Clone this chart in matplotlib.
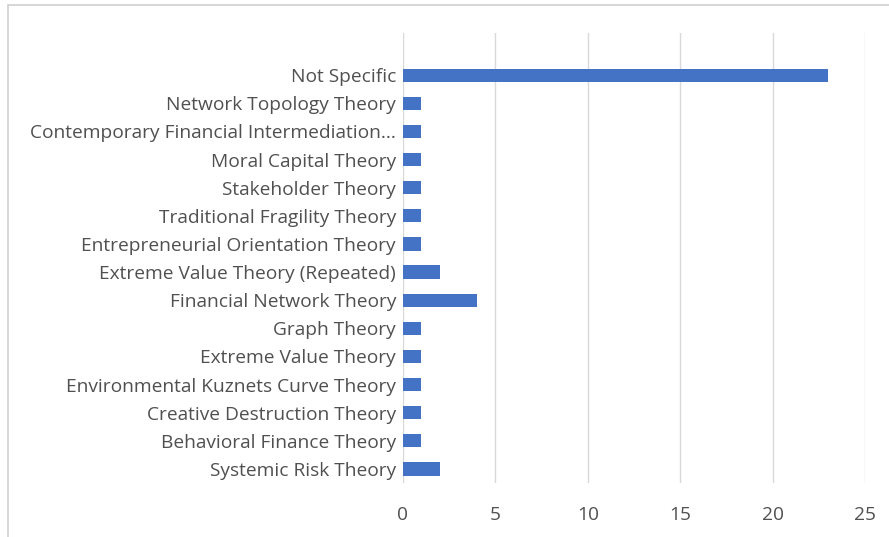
import matplotlib
matplotlib.use("AGG")
import matplotlib.pyplot as plt
from matplotlib.patches import Rectangle

# theory counts, listed top to bottom
theories = ['Not Specific', 'Network Topology Theory',
            'Contemporary Financial Intermediation...', 'Moral Capital Theory',
            'Stakeholder Theory', 'Traditional Fragility Theory',
            'Entrepreneurial Orientation Theory', 'Extreme Value Theory (Repeated)',
            'Financial Network Theory', 'Graph Theory', 'Extreme Value Theory',
            'Environmental Kuznets Curve Theory', 'Creative Destruction Theory',
            'Behavioral Finance Theory', 'Systemic Risk Theory']
counts = [23, 1, 1, 1, 1, 1, 1, 2, 4, 1, 1, 1, 1, 1, 2]
x_ticks = [0, 5, 10, 15, 20, 25]

plt.rcParams['font.family'] = ['Open Sans', 'DejaVu Sans']

W, H = 889, 537
fig = plt.figure(figsize=(W/100, H/100), dpi=100)
# chart frame
fig.patches.append(Rectangle((8/W, -0.01), 1.0, 1 - 5/H + 0.01, transform=fig.transFigure,
                             fill=False, edgecolor='#d0d0d0', linewidth=1.2))

ax = fig.add_axes([403/W, 1 - 483/H, (865-403)/W, (483-33)/H])
y_pos = list(range(len(theories)))[::-1]
ax.barh(y_pos, counts, height=0.47, color='#4472C4')
ax.set_xlim(0, 25)
ax.set_ylim(-0.5, 15.5)
ax.set_xticks(x_ticks)
ax.set_yticks(y_pos)
ax.set_yticklabels(theories)
ax.grid(axis='x', color='#d9d9d9', linewidth=1)
ax.set_axisbelow(True)
for s in ax.spines.values():
    s.set_visible(False)
ax.tick_params(length=0, labelsize=13.8, labelcolor='#505050')
ax.tick_params(axis='x', pad=16.5)
ax.tick_params(axis='y', pad=5)

fig.savefig("out.png", dpi=100)
